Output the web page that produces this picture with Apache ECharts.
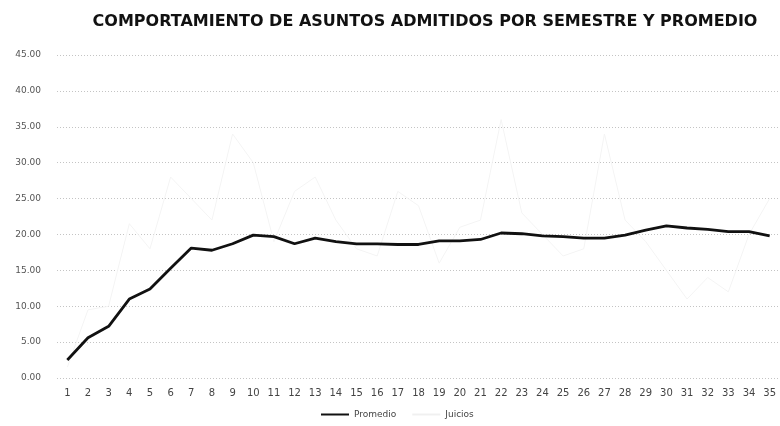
<!DOCTYPE html>
<html>
<head>
<meta charset="utf-8">
<style>
  html, body { margin: 0; padding: 0; background: #fff; }
  #chart { width: 780px; height: 426px; }
</style>
<script src="https://cdn.jsdelivr.net/npm/echarts@6/dist/echarts.min.js"></script>
</head>
<body>
<div id="chart"></div>
<script>
// semestres 1..35
const semestres = Array.from({ length: 35 }, (_, i) => String(i + 1));

const promedio = [
  2.5, 5.6, 7.2, 11.0, 12.4, 15.3, 18.1, 17.8, 18.7, 19.9,
  19.7, 18.7, 19.5, 19.0, 18.7, 18.7, 18.6, 18.6, 19.1, 19.1,
  19.3, 20.2, 20.1, 19.8, 19.7, 19.5, 19.5, 19.9, 20.6, 21.2,
  20.9, 20.7, 20.4, 20.4, 19.8
];

// serie casi invisible en el escaneo; valores aproximados
const juicios = [
  1.5, 9.5, 10.0, 21.5, 18.0, 28.0, 25.0, 22.0, 34.0, 30.0,
  19.0, 26.0, 28.0, 22.0, 18.0, 17.0, 26.0, 24.0, 16.0, 21.0,
  22.0, 36.0, 23.0, 20.0, 17.0, 18.0, 34.0, 22.0, 19.0, 15.0,
  11.0, 14.0, 12.0, 20.0, 25.0
];

const yTicks = { min: 0, max: 45, interval: 5 };

const chart = echarts.init(document.getElementById("chart"));

chart.setOption({
  animation: false,
  title: {
    text: "COMPORTAMIENTO DE ASUNTOS ADMITIDOS POR SEMESTRE Y PROMEDIO",
    left: 420,
    textAlign: "center",
    top: 9,
    textStyle: {
      fontFamily: "DejaVu Sans",
      fontWeight: "bold",
      fontSize: 16,
      color: "#111",
    },
  },
  legend: {
    data: ["Promedio", "Juicios"],
    bottom: 2,
    left: 316,
    itemWidth: 28,
    itemHeight: 8,
    itemGap: 16,
    icon: "path://M0,4 L28,4 L28,6 L0,6 Z",
    textStyle: { fontFamily: "DejaVu Sans", fontSize: 9, color: "#444" },
  },
  grid: {
    left: 57,
    right: -6,
    top: 55,
    bottom: 48,
    containLabel: false,
  },
  xAxis: {
    type: "category",
    data: semestres,
    boundaryGap: true,
    axisLine: { show: false },
    axisTick: { show: false },
    axisLabel: {
      interval: 0,
      margin: 10,
      fontFamily: "DejaVu Sans",
      fontSize: 10,
      color: "#444",
    },
  },
  yAxis: {
    type: "value",
    min: yTicks.min,
    max: yTicks.max,
    interval: yTicks.interval,
    axisLine: { show: false },
    axisTick: { show: false },
    axisLabel: {
      formatter: (v) => v.toFixed(2),
      margin: 16,
      fontFamily: "DejaVu Sans",
      fontSize: 9,
      color: "#555",
    },
    splitLine: {
      lineStyle: { color: "#c4c4c4", type: [1, 2], width: 1 },
    },
  },
  series: [
    {
      name: "Promedio",
      type: "line",
      data: promedio,
      showSymbol: false,
      color: "#111",
      lineStyle: { width: 2.8, color: "#111" },
      z: 3,
    },
    {
      name: "Juicios",
      type: "line",
      data: juicios,
      showSymbol: false,
      color: "#f0f0f0",
      lineStyle: { width: 1, color: "#f4f4f4" },
      z: 2,
    },
  ],
});
</script>
</body>
</html>
